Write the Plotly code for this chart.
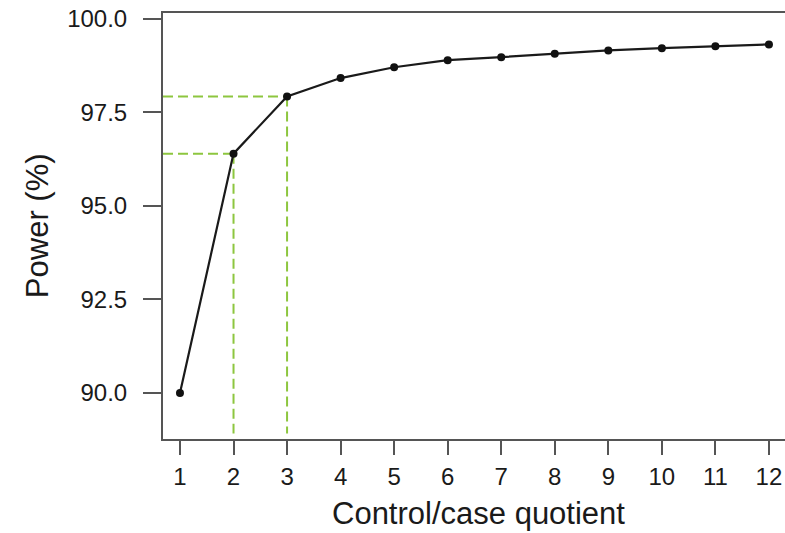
import plotly.graph_objects as go

# Data
quotient = [1, 2, 3, 4, 5, 6, 7, 8, 9, 10, 11, 12]
power = [90.0, 96.4, 97.93, 98.42, 98.71, 98.90, 98.98, 99.07, 99.16, 99.22, 99.27, 99.32]
guide_x = [2, 3]
x_ticks = list(range(1, 13))
y_ticks = [90.0, 92.5, 95.0, 97.5, 100.0]
y_tick_text = ["90.0", "92.5", "95.0", "97.5", "100.0"]
x_title = "Control/case quotient"
y_title = "Power (%)"

X_RANGE = [0.683, 12.30]
Y_RANGE = [88.77, 100.16]

GREEN = "#8DC63F"
FONT = "Liberation Sans, Arial, Helvetica, sans-serif"
TXT = "#1a1a1a"

fig = go.Figure()

# green guide lines
for gx in guide_x:
    gy = power[quotient.index(gx)]
    fig.add_trace(go.Scatter(
        x=[X_RANGE[0], gx], y=[gy, gy], mode="lines",
        line=dict(color=GREEN, width=2, dash="10px,5px"),
        hoverinfo="skip", showlegend=False, cliponaxis=True))
    fig.add_trace(go.Scatter(
        x=[gx, gx], y=[gy, Y_RANGE[0] + 0.15], mode="lines",
        line=dict(color=GREEN, width=2, dash="10px,5px"),
        hoverinfo="skip", showlegend=False, cliponaxis=True))

fig.add_trace(go.Scatter(
    x=quotient, y=power, mode="lines+markers",
    line=dict(color="#1a1a1a", width=2.2),
    marker=dict(color="#111111", size=8),
    showlegend=False, cliponaxis=False))

fig.update_layout(
    width=785, height=533,
    margin=dict(l=163, r=0, t=13, b=94, autoexpand=False),
    paper_bgcolor="white", plot_bgcolor="white",
    font=dict(family=FONT, color=TXT),
    annotations=[
        dict(text=x_title, xref="paper", yref="paper", x=0.508, y=-0.1745,
             xanchor="center", yanchor="middle", showarrow=False,
             font=dict(size=31, family=FONT, color=TXT)),
        dict(text=y_title, xref="paper", yref="paper", x=-0.2026, y=0.502,
             xanchor="center", yanchor="middle", showarrow=False, textangle=-90,
             font=dict(size=31, family=FONT, color=TXT)),
    ],
)

fig.update_xaxes(
    range=X_RANGE, tickmode="array", tickvals=x_ticks,
    ticks="outside", ticklen=14, tickwidth=2, tickcolor="#555555",
    showline=True, linecolor="#555555", linewidth=2, mirror=True,
    showgrid=False, zeroline=False, ticklabelstandoff=1, automargin=False,
    tickfont=dict(size=24, family=FONT, color=TXT),
)
fig.update_yaxes(
    range=Y_RANGE, tickmode="array", tickvals=y_ticks, ticktext=y_tick_text,
    ticks="outside", ticklen=18, tickwidth=2, tickcolor="#555555",
    showline=True, linecolor="#555555", linewidth=2, mirror=False,
    showgrid=False, zeroline=False, ticklabelstandoff=11, automargin=False,
    tickfont=dict(size=24, family=FONT, color=TXT),
)

fig.write_html(
    "out.html",
    config={"displayModeBar": False},
    post_script="document.body.style.margin='0px';document.body.style.overflow='hidden';",
)
